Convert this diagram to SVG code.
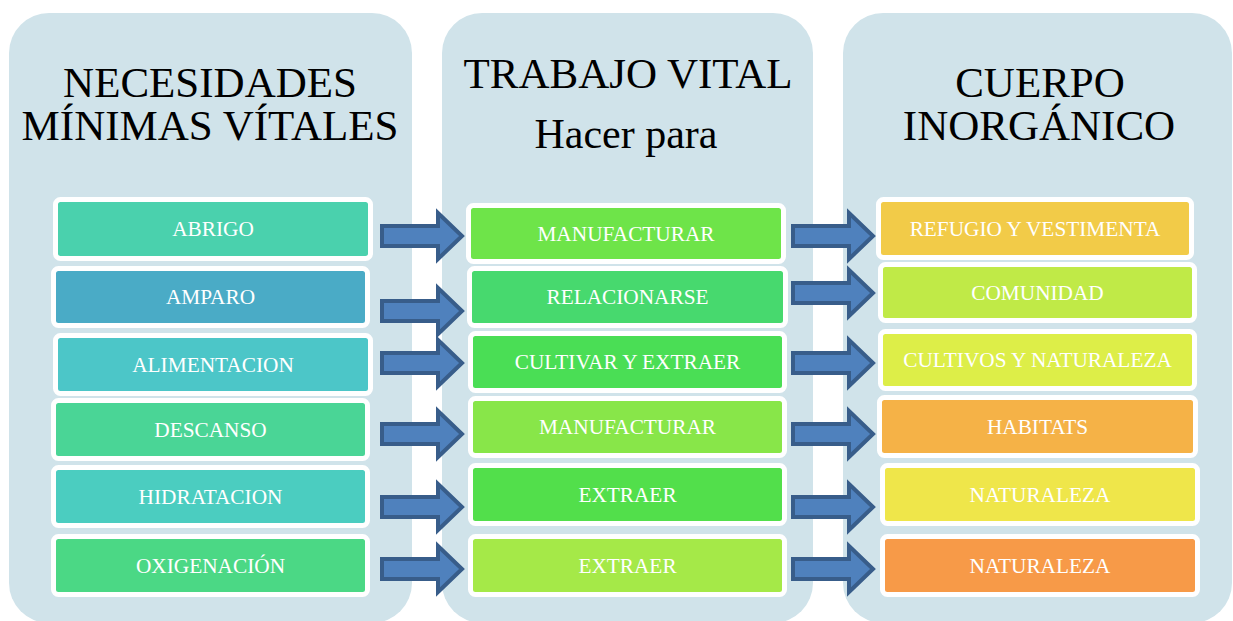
<svg xmlns="http://www.w3.org/2000/svg" xmlns:xlink="http://www.w3.org/1999/xlink" width="1233" height="621" viewBox="0 0 1233 621">
<style>
.panel{fill:#d0e3ea}
.box{stroke:#ffffff;stroke-width:5}
.lbl{fill:#ffffff;font-family:"Liberation Serif","Times New Roman",serif;font-size:21.3px;text-anchor:middle}
.title{fill:#000000;font-family:"Liberation Serif","Times New Roman",serif;font-size:43px;text-anchor:middle}
.arr{fill:#4f81bd;stroke:#385d8a;stroke-width:4;stroke-linejoin:miter}
</style>
<defs>
<path id="arrow" class="arr" d="M0,-10 H56 V-23 L80,0 L56,23 V10 H0 Z"/>
</defs>
<rect width="1233" height="621" fill="#ffffff"/>
<g id="panel-left">
<rect class="panel" x="9" y="13" width="403" height="610" rx="40"/>
<text class="title" x="210" y="97">NECESIDADES</text>
<text class="title" x="210" y="140">MÍNIMAS VÍTALES</text>
</g>
<g id="panel-middle">
<rect class="panel" x="442" y="13" width="371" height="610" rx="40"/>
<text class="title" x="628" y="88">TRABAJO VITAL</text>
<text class="title" x="626" y="148" style="font-size:42px">Hacer para</text>
</g>
<g id="panel-right">
<rect class="panel" x="843" y="13" width="389" height="610" rx="40"/>
<text class="title" x="1040" y="97">CUERPO</text>
<text class="title" x="1039" y="140">INORGÁNICO</text>
</g>
<g id="abrigo"><rect class="box" x="55.5" y="199.5" width="315" height="59" rx="5" fill="#4ad1ad"/><text class="lbl" x="213" y="236">ABRIGO</text></g>
<g id="amparo"><rect class="box" x="53.5" y="268.5" width="314" height="57" rx="5" fill="#4aabc6"/><text class="lbl" x="210.5" y="304">AMPARO</text></g>
<g id="alimentacion"><rect class="box" x="55.5" y="335.5" width="315" height="58" rx="5" fill="#4cc6c8"/><text class="lbl" x="213" y="371.5">ALIMENTACION</text></g>
<g id="descanso"><rect class="box" x="53.5" y="400.5" width="314" height="58" rx="5" fill="#4ad596"/><text class="lbl" x="210.5" y="436.5">DESCANSO</text></g>
<g id="hidratacion"><rect class="box" x="53.5" y="467.5" width="314" height="58" rx="5" fill="#4bcdc0"/><text class="lbl" x="210.5" y="503.5">HIDRATACION</text></g>
<g id="oxigenacion"><rect class="box" x="53.5" y="536.5" width="314" height="58" rx="5" fill="#4bd885"/><text class="lbl" x="210.5" y="572.5">OXIGENACIÓN</text></g>
<g id="manufacturar1"><rect class="box" x="468.5" y="205.5" width="315" height="56" rx="5" fill="#6ee449"/><text class="lbl" x="626" y="240.5">MANUFACTURAR</text></g>
<g id="relacionarse"><rect class="box" x="469.5" y="268.5" width="316" height="57" rx="5" fill="#47d96e"/><text class="lbl" x="627.5" y="304">RELACIONARSE</text></g>
<g id="cultivar"><rect class="box" x="470.5" y="333.5" width="314" height="57" rx="5" fill="#4ade55"/><text class="lbl" x="627.5" y="369">CULTIVAR Y EXTRAER</text></g>
<g id="manufacturar2"><rect class="box" x="470.5" y="398.5" width="314" height="57" rx="5" fill="#88e649"/><text class="lbl" x="627.5" y="434">MANUFACTURAR</text></g>
<g id="extraer1"><rect class="box" x="470.5" y="465.5" width="314" height="58" rx="5" fill="#52df4b"/><text class="lbl" x="627.5" y="501.5">EXTRAER</text></g>
<g id="extraer2"><rect class="box" x="470.5" y="536.5" width="314" height="58" rx="5" fill="#a5e948"/><text class="lbl" x="627.5" y="572.5">EXTRAER</text></g>
<g id="refugio"><rect class="box" x="878.5" y="199.5" width="313" height="58" rx="5" fill="#f2cb48"/><text class="lbl" x="1035" y="235.5">REFUGIO Y VESTIMENTA</text></g>
<g id="comunidad"><rect class="box" x="880.5" y="264.5" width="314" height="56" rx="5" fill="#c0ea47"/><text class="lbl" x="1037.5" y="299.5">COMUNIDAD</text></g>
<g id="cultivos"><rect class="box" x="880.5" y="331.5" width="314" height="57" rx="5" fill="#ddee48"/><text class="lbl" x="1037.5" y="367">CULTIVOS Y NATURALEZA</text></g>
<g id="habitats"><rect class="box" x="879.5" y="397.5" width="316" height="58" rx="5" fill="#f5b247"/><text class="lbl" x="1037.5" y="433.5">HABITATS</text></g>
<g id="naturaleza1"><rect class="box" x="882.5" y="465.5" width="315" height="58" rx="5" fill="#efe64a"/><text class="lbl" x="1040" y="501.5">NATURALEZA</text></g>
<g id="naturaleza2"><rect class="box" x="882.5" y="536.5" width="315" height="58" rx="5" fill="#f79a48"/><text class="lbl" x="1040" y="572.5">NATURALEZA</text></g>
<g id="connectors">
<use xlink:href="#arrow" x="382" y="236"/>
<use xlink:href="#arrow" x="382" y="311"/>
<use xlink:href="#arrow" x="382" y="363"/>
<use xlink:href="#arrow" x="382" y="434"/>
<use xlink:href="#arrow" x="382" y="507"/>
<use xlink:href="#arrow" x="382" y="569"/>
<use xlink:href="#arrow" x="793" y="236"/>
<use xlink:href="#arrow" x="793" y="293"/>
<use xlink:href="#arrow" x="793" y="363"/>
<use xlink:href="#arrow" x="793" y="434"/>
<use xlink:href="#arrow" x="793" y="507"/>
<use xlink:href="#arrow" x="793" y="569"/>
</g>
</svg>
